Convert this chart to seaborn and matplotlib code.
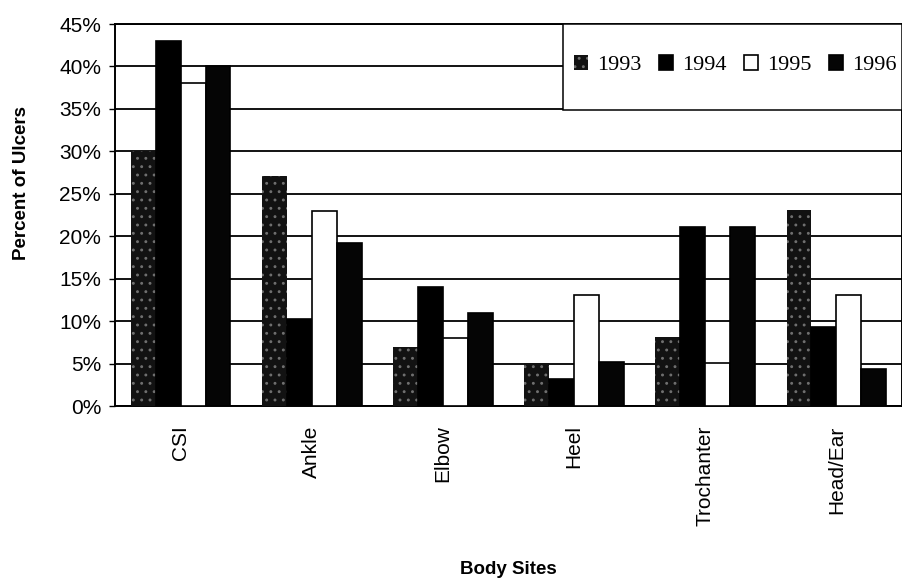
import matplotlib
matplotlib.use("Agg")
import matplotlib.pyplot as plt
import seaborn as sns
import pandas as pd
from matplotlib.patches import Rectangle
from matplotlib.ticker import PercentFormatter

# data (percent of ulcers per body site)
sites = ["CSI", "Ankle", "Elbow", "Heel", "Trochanter", "Head/Ear"]
years = ["1993", "1994", "1995", "1996"]
pct_1993 = [30.0, 27.1, 7.0, 5.1, 8.1, 23.1]
pct_1994 = [43.0, 10.2, 14.0, 3.2, 21.1, 9.3]
pct_1995 = [38.0, 23.0, 8.0, 13.1, 5.1, 13.1]
pct_1996 = [40.0, 19.2, 11.0, 5.2, 21.1, 4.3]

rows = []
for yr, vals in zip(years, [pct_1993, pct_1994, pct_1995, pct_1996]):
    for s, v in zip(sites, vals):
        rows.append({"site": s, "year": yr, "pct": v})
df = pd.DataFrame(rows)

sns.set_style("white")
plt.rcParams["font.family"] = ["Liberation Sans", "DejaVu Sans"]
plt.rcParams["text.color"] = "black"
plt.rcParams["axes.labelcolor"] = "black"
plt.rcParams["xtick.color"] = "black"
plt.rcParams["ytick.color"] = "black"
plt.rcParams["hatch.linewidth"] = 0.9

fig = plt.figure(figsize=(9.03, 5.84), dpi=100)
ax = fig.add_axes([115 / 903, 1 - 406 / 584, 787 / 903, 382 / 584])

palette = {"1993": "#121212", "1994": "#000000", "1995": "#ffffff", "1996": "#050505"}
sns.barplot(data=df, x="site", y="pct", hue="year", order=sites,
            hue_order=years, palette=palette, width=0.76, gap=0,
            edgecolor="black", linewidth=1.2, saturation=1, ax=ax, zorder=3)

# stipple the 1993 bars with light specks
for bar in ax.containers[0]:
    bar.set_hatch("..")
    bar.set_edgecolor("#707070")
    bar.set_linewidth(0)

ax.set_ylim(0, 45)
ax.set_yticks(range(0, 46, 5))
ax.yaxis.set_major_formatter(PercentFormatter(decimals=0))
ax.grid(axis="y", color="black", linewidth=1.3, zorder=0)
ax.set_axisbelow(True)
for sp in ax.spines.values():
    sp.set_color("black")
    sp.set_linewidth(1.4)

ax.tick_params(axis="y", labelsize=15, length=4, width=1, color="black",
               direction="out", left=True, pad=6)
ax.tick_params(axis="x", labelsize=15, length=0, pad=14, labelrotation=90)

ax.set_ylabel("Percent of Ulcers", fontsize=13.5, fontweight="bold")
ax.yaxis.set_label_coords(-0.108, 0.585)
ax.set_xlabel("Body Sites", fontsize=13.5, fontweight="bold")
ax.xaxis.set_label_coords(0.5, -0.405)

# legend box (white, covers the grid lines) with the entries in one row
ax.add_patch(Rectangle((0.569, (406 - 110) / 382), 0.431, 1 - (406 - 110) / 382,
                       transform=ax.transAxes, facecolor="white",
                       edgecolor="black", linewidth=1.1, zorder=4))
handles = [c.patches[0] for c in ax.containers]
leg = ax.legend(handles, years, loc="center left", ncol=4,
                bbox_to_anchor=((574 - 115) / 787, (406 - 65) / 382),
                borderaxespad=0, borderpad=0, frameon=False,
                handlelength=0.63, handleheight=0.7, handletextpad=0.4,
                columnspacing=0.8,
                prop={"family": "Liberation Serif", "size": 16})
leg.set_zorder(5)

fig.savefig("out.png", dpi=100)
